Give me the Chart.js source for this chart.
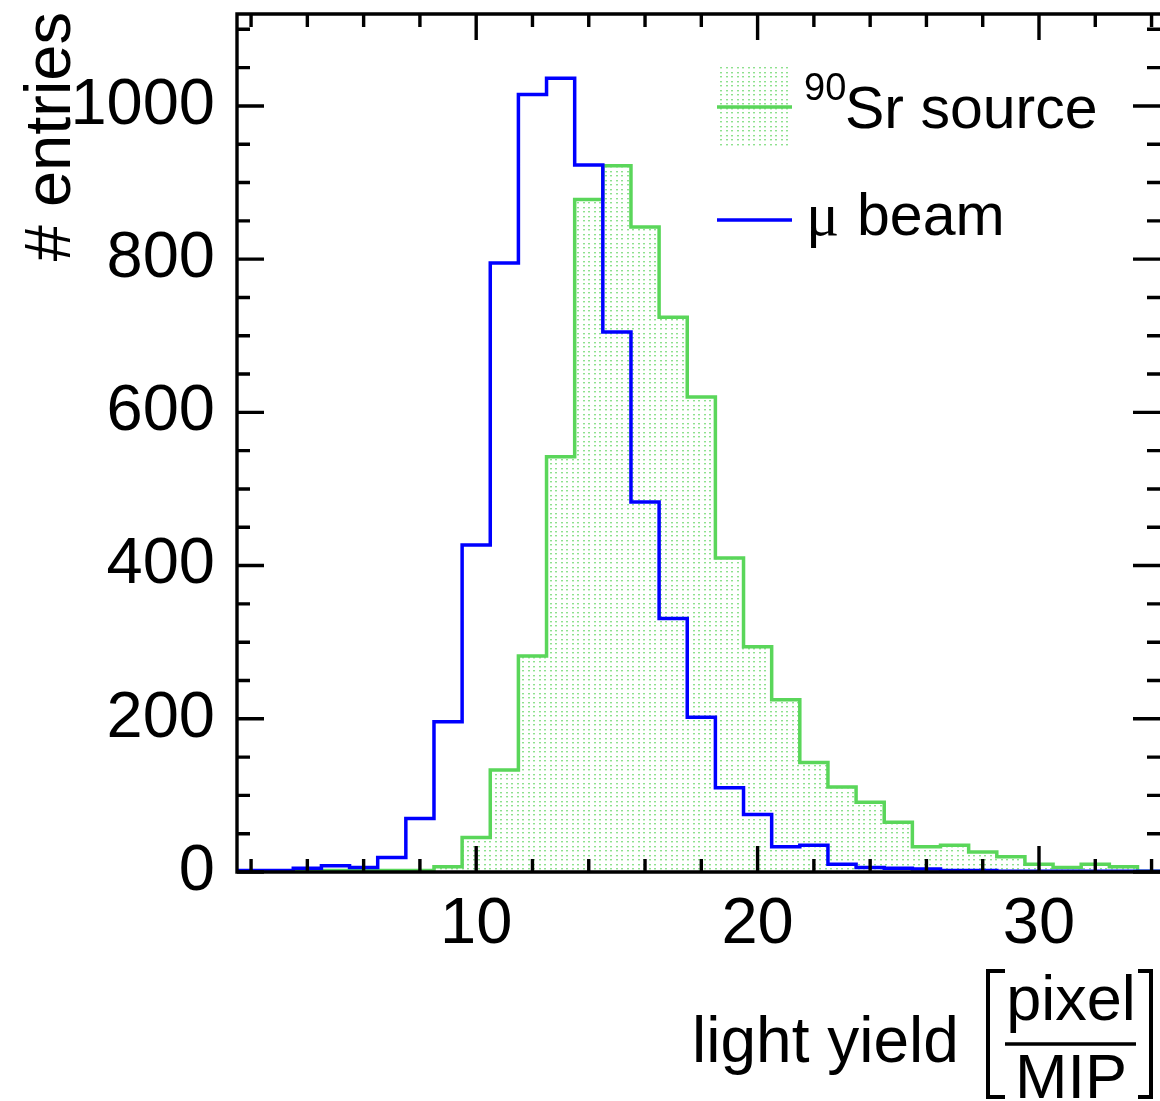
<!DOCTYPE html>
<html>
<head>
<meta charset="utf-8">
<title>Light yield</title>
<script src="https://cdn.jsdelivr.net/npm/chart.js@4.4.1/dist/chart.umd.min.js"></script>
<style>
  html, body { margin: 0; padding: 0; background: #ffffff; }
  canvas { display: block; }
</style>
</head>
<body>
<canvas id="chart" width="1160" height="1101"></canvas>
<script>
// Histogram bins: integer bin centres, width 1
const binCenters = [2, 3, 4, 5, 6, 7, 8, 9, 10, 11, 12, 13, 14, 15, 16, 17, 18,
                    19, 20, 21, 22, 23, 24, 25, 26, 27, 28, 29, 30, 31, 32, 33, 34];

// entries per bin, muon beam
const muBeam = [2, 2, 5, 8, 6, 19, 70, 196, 427, 795, 1015, 1036, 923, 705, 483, 331, 202,
                110, 75, 33, 35, 10, 6, 5, 4, 2, 2, 1, 1, 1, 1, 1, 1];

// entries per bin, 90Sr source
const srSource = [0, 0, 1, 2, 2, 2, 2, 7, 45, 133, 282, 542, 878, 922, 842, 724, 620,
                  410, 294, 225, 143, 111, 91, 65, 33, 35, 26, 20, 10, 6, 10, 7, 1];

// axis labels and tick divisions
const xTickLabels = [10, 20, 30];
const yTickLabels = [0, 200, 400, 600, 800, 1000];
const xMinorStep = 2;
const yMinorStep = 50;
const yMajorStep = 200;

const SANS = '"Liberation Sans", Arial, Helvetica, sans-serif';
const SERIF = '"Liberation Serif", "Times New Roman", serif';
const GREEN = '#5ad65a';
const BLUE = '#0000ff';

// Each bin becomes a point at its left edge; one closing point at the last right edge.
function histPoints(centers, counts) {
  const pts = centers.map((c, i) => ({ x: c - 0.5, y: counts[i] }));
  pts.push({ x: centers[centers.length - 1] + 0.5, y: counts[counts.length - 1] });
  return pts;
}

// fine dotted hatch used for the source histogram fill
function dotPattern() {
  const tile = document.createElement('canvas');
  tile.width = 11;
  tile.height = 9;
  const t = tile.getContext('2d');
  t.fillStyle = 'rgba(105, 214, 105, 0.75)';
  [[0, 0], [5, 0], [0, 4], [5, 4]].forEach(([px, py]) => t.fillRect(px, py, 2, 1));
  t.fillStyle = 'rgba(170, 235, 170, 0.55)';
  [[0, 1], [5, 1], [0, 5], [5, 5]].forEach(([px, py]) => t.fillRect(px, py, 2, 1));
  return document.getElementById('chart').getContext('2d').createPattern(tile, 'repeat');
}
const srFill = dotPattern();

// frame with inward ticks on all four sides, drawn over the histograms
const framePlugin = {
  id: 'frame',
  afterDatasetsDraw(chart) {
    const { ctx, chartArea: a, scales: { x, y } } = chart;
    ctx.save();
    ctx.strokeStyle = '#000';
    ctx.lineWidth = 3.4;
    ctx.lineCap = 'butt';
    ctx.beginPath();
    for (let v = Math.ceil(x.min / xMinorStep) * xMinorStep; v <= x.max; v += xMinorStep) {
      const px = x.getPixelForValue(v);
      const len = xTickLabels.includes(v) ? 26 : 13;
      ctx.moveTo(px, a.bottom); ctx.lineTo(px, a.bottom - len);
      ctx.moveTo(px, a.top); ctx.lineTo(px, a.top + len);
    }
    for (let v = 0; v <= y.max; v += yMinorStep) {
      const py = y.getPixelForValue(v);
      const len = v % yMajorStep === 0 ? 27 : 13;
      ctx.moveTo(a.left, py); ctx.lineTo(a.left + len, py);
      ctx.moveTo(a.right, py); ctx.lineTo(a.right - len, py);
    }
    ctx.stroke();
    ctx.beginPath();
    ctx.moveTo(a.right + 2, a.top);
    ctx.lineTo(a.left, a.top);
    ctx.lineTo(a.left, a.bottom);
    ctx.lineTo(a.right + 2, a.bottom);
    ctx.stroke();
    ctx.restore();
  }
};

// axis titles and legend
const labelsPlugin = {
  id: 'labels',
  afterDraw(chart) {
    const ctx = chart.ctx;
    const sr = chart.data.datasets[1];
    const mu = chart.data.datasets[0];
    ctx.save();
    ctx.fillStyle = '#000';
    ctx.textBaseline = 'alphabetic';

    // y title, right-aligned at the top of the axis
    ctx.save();
    ctx.translate(70, 12);
    ctx.rotate(-Math.PI / 2);
    ctx.textAlign = 'right';
    ctx.font = '65px ' + SANS;
    ctx.fillText('# entries', 0, 0);
    ctx.restore();

    // x title: light yield [pixel / MIP]
    ctx.textAlign = 'left';
    ctx.font = '64px ' + SANS;
    ctx.fillText('light yield', 692, 1062);
    ctx.textAlign = 'center';
    ctx.font = '63px ' + SANS;
    ctx.fillText('pixel', 1071, 1020);
    ctx.fillText('MIP', 1071, 1098);
    ctx.strokeStyle = '#000';
    ctx.lineWidth = 3.4;
    ctx.beginPath();
    ctx.moveTo(1005, 1044); ctx.lineTo(1136, 1044);
    ctx.stroke();
    ctx.lineWidth = 4;
    ctx.beginPath();
    ctx.moveTo(1005, 971); ctx.lineTo(988, 971); ctx.lineTo(988, 1097); ctx.lineTo(1005, 1097);
    ctx.moveTo(1138, 971); ctx.lineTo(1151, 971); ctx.lineTo(1151, 1097); ctx.lineTo(1138, 1097);
    ctx.stroke();

    // legend
    ctx.fillStyle = sr.backgroundColor;
    ctx.fillRect(717, 67, 75, 80);
    ctx.lineWidth = sr.borderWidth;
    ctx.strokeStyle = sr.borderColor;
    ctx.beginPath(); ctx.moveTo(717, 107); ctx.lineTo(792, 107); ctx.stroke();
    ctx.lineWidth = mu.borderWidth;
    ctx.strokeStyle = mu.borderColor;
    ctx.beginPath(); ctx.moveTo(717, 220); ctx.lineTo(792, 220); ctx.stroke();

    ctx.fillStyle = '#000';
    ctx.textAlign = 'left';
    ctx.font = '38px ' + SANS;
    ctx.fillText('90', 804, 100);
    ctx.font = '59px ' + SANS;
    ctx.fillText('Sr source', 845, 128);
    ctx.font = '62px ' + SERIF;
    ctx.fillText('\u03bc', 806, 235);
    ctx.font = '59px ' + SANS;
    ctx.fillText('beam', 857, 235);
    ctx.restore();
  }
};

new Chart(document.getElementById('chart'), {
  type: 'line',
  data: {
    datasets: [
      {
        label: '\u03bc beam',
        data: histPoints(binCenters, muBeam),
        borderColor: BLUE,
        borderWidth: 3.5,
        stepped: 'before',
        pointRadius: 0,
        fill: false,
        order: 1
      },
      {
        label: '90Sr source',
        data: histPoints(binCenters, srSource),
        borderColor: GREEN,
        backgroundColor: srFill,
        borderWidth: 3.5,
        stepped: 'before',
        pointRadius: 0,
        fill: 'origin',
        order: 2
      }
    ]
  },
  options: {
    responsive: false,
    animation: false,
    devicePixelRatio: 1,
    layout: { padding: { top: 14, right: 0, bottom: 0, left: 0 } },
    plugins: { legend: { display: false }, tooltip: { enabled: false } },
    scales: {
      x: {
        type: 'linear',
        min: 1.5,
        max: 34.3,
        grid: { display: false, drawTicks: false },
        border: { display: false },
        afterBuildTicks: s => { s.ticks = xTickLabels.map(v => ({ value: v })); },
        afterFit: s => { s.height = 229; s.paddingLeft = 0; s.paddingRight = 0; },
        ticks: {
          font: { family: SANS, size: 65 },
          color: '#000',
          padding: 14,
          maxRotation: 0,
          autoSkip: false,
          callback: v => String(v)
        }
      },
      y: {
        type: 'linear',
        min: 0,
        max: 1120,
        grid: { display: false, drawTicks: false },
        border: { display: false },
        afterBuildTicks: s => { s.ticks = yTickLabels.map(v => ({ value: v })); },
        afterFit: s => { s.width = 237; s.paddingTop = 0; s.paddingBottom = 0; },
        ticks: {
          font: { family: SANS, size: 65 },
          color: '#000',
          padding: 22,
          autoSkip: false,
          callback: v => String(v)
        }
      }
    }
  },
  plugins: [framePlugin, labelsPlugin]
});
</script>
</body>
</html>
